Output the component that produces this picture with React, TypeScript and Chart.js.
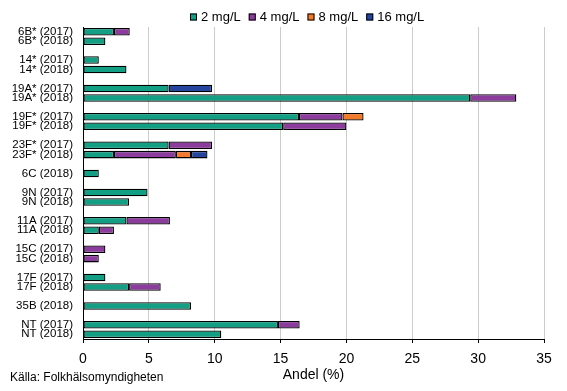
import React, { useEffect, useRef } from "react";
import { Chart, registerables } from "chart.js";

Chart.register(...registerables);

const categories = [
  "6B* (2017)", "6B* (2018)", "",
  "14* (2017)", "14* (2018)", "",
  "19A* (2017)", "19A* (2018)", "",
  "19F* (2017)", "19F* (2018)", "",
  "23F* (2017)", "23F* (2018)", "",
  "6C (2018)", "",
  "9N (2017)", "9N (2018)", "",
  "11A (2017)", "11A (2018)", "",
  "15C (2017)", "15C (2018)", "",
  "17F (2017)", "17F (2018)", "",
  "35B (2018)", "",
  "NT (2017)", "NT (2018)",
];

const seriesNames = ["2 mg/L", "4 mg/L", "8 mg/L", "16 mg/L"];

const mic2 = [
  2.35, 1.7, null,
  1.2, 3.3, null,
  6.5, 29.4, null,
  16.4, 15.2, null,
  6.5, 2.35, null,
  1.2, null,
  4.9, 3.5, null,
  3.3, 1.2, null,
  null, null, null,
  1.7, 3.5, null,
  8.2, null,
  14.8, 10.5,
];

const mic4 = [
  1.2, null, null,
  null, null, null,
  null, 3.5, null,
  3.3, 4.8, null,
  3.3, 4.7, null,
  null, null,
  null, null, null,
  3.3, 1.15, null,
  1.7, 1.2, null,
  null, 2.4, null,
  null, null,
  1.65, null,
];

const mic8 = [
  null, null, null,
  null, null, null,
  null, null, null,
  1.6, null, null,
  null, 1.15, null,
  null, null,
  null, null, null,
  null, null, null,
  null, null, null,
  null, null, null,
  null, null,
  null, null,
];

const mic16 = [
  null, null, null,
  null, null, null,
  3.3, null, null,
  null, null, null,
  null, 1.25, null,
  null, null,
  null, null, null,
  null, null, null,
  null, null, null,
  null, null, null,
  null, null,
  null, null,
];

const xTicks = [0, 5, 10, 15, 20, 25, 30, 35];
const sourceText = "Källa: Folkhälsomyndigheten";
const xTitle = "Andel (%)";

const colors = ["#139f84", "#8b3c9d", "#f27a2a", "#25449d"];
const FONT = "'Liberation Sans', Arial, sans-serif";

export default function App() {
  const ref = useRef<HTMLCanvasElement | null>(null);

  useEffect(() => {
    if (!ref.current) return;
    const series = [mic2, mic4, mic8, mic16];

    const overlay = {
      id: "overlay",
      afterDraw(chart: any) {
        const ctx = chart.ctx;
        ctx.save();
        // legend
        ctx.font = `13px ${FONT}`;
        ctx.textBaseline = "middle";
        ctx.textAlign = "left";
        let x = 190;
        const boxY = 13.5;
        const box = 7;
        chart.data.datasets.forEach((ds: any) => {
          ctx.fillStyle = ds.backgroundColor;
          ctx.fillRect(x, boxY, box, box);
          ctx.strokeStyle = "#000";
          ctx.lineWidth = 1;
          ctx.strokeRect(x + 0.5, boxY + 0.5, box - 1, box - 1);
          ctx.fillStyle = "#000";
          ctx.fillText(ds.label, x + box + 4, 17.5);
          x += box + 4 + ctx.measureText(ds.label).width + 8;
        });
        // source
        ctx.font = `12px ${FONT}`;
        ctx.textBaseline = "alphabetic";
        ctx.fillText(sourceText, 10, 381);
        ctx.restore();
      },
    };

    const chart = new Chart(ref.current, {
      type: "bar",
      data: {
        labels: categories,
        datasets: seriesNames.map((name, i) => ({
          label: name,
          data: series[i],
          backgroundColor: colors[i],
          borderColor: "#000",
          borderWidth: 1.3,
          borderSkipped: false,
          barPercentage: 0.8,
          categoryPercentage: 1,
        })),
      },
      options: {
        indexAxis: "y",
        responsive: false,
        animation: false,
        devicePixelRatio: 1,
        layout: { padding: { left: 0, right: 23, top: 27, bottom: 0 } },
        plugins: {
          legend: { display: false },
          tooltip: { enabled: false },
        },
        scales: {
          x: {
            stacked: true,
            min: 0,
            max: 35,
            afterBuildTicks(scale: any) {
              scale.ticks = xTicks.map((v) => ({ value: v }));
            },
            afterFit(scale: any) {
              scale.height = 52;
            },
            grid: {
              color: "#c6d0c6",
              lineWidth: 1,
              tickColor: "#000",
              tickLength: 4,
              drawTicks: true,
            },
            border: { display: true, color: "#000", width: 1 },
            ticks: {
              color: "#000",
              font: { family: FONT, size: 14 },
              padding: 8,
              maxRotation: 0,
            },
            title: {
              display: true,
              text: xTitle,
              color: "#000",
              font: { family: FONT, size: 14 },
              padding: { top: 0, bottom: 7 },
            },
          },
          y: {
            stacked: true,
            afterFit(scale: any) {
              scale.width = 83;
            },
            grid: { display: false, drawTicks: false },
            border: { display: true, color: "#000", width: 1 },
            ticks: {
              color: "#000",
              font: { family: FONT, size: 11.5 },
              padding: 10,
              autoSkip: false,
            },
          },
        },
      },
      plugins: [overlay],
    });

    return () => chart.destroy();
  }, []);

  return (
    <div style={{ position: "absolute", left: 0, top: 0, width: 567, height: 391, background: "#fff" }}>
      <canvas ref={ref} width={567} height={391} />
    </div>
  );
}
